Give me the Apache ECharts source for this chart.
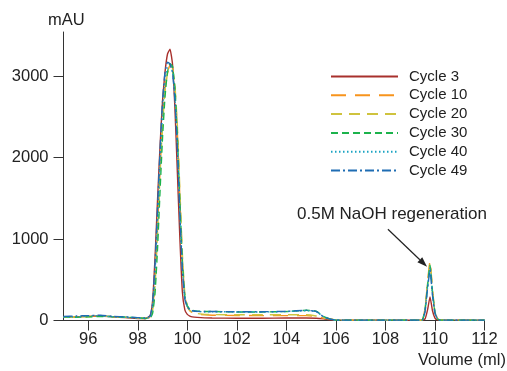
<!DOCTYPE html>
<html>
<head>
<meta charset="utf-8">
<script src="https://cdn.jsdelivr.net/npm/echarts@6/dist/echarts.min.js"></script>
<style>
  html, body { margin: 0; padding: 0; background: #fff; }
  #chart { width: 507px; height: 371px; }
</style>
</head>
<body>
<div id="chart"></div>
<script>
// Elution volume (ml), shared by every run
const volume = [
  95, 95.5, 96, 96.5, 97, 97.5, 98, 98.3, 98.5, 98.6,
  98.7, 98.8, 98.9, 99.0, 99.1, 99.2, 99.3, 99.4, 99.5, 99.6,
  99.7, 99.8, 99.9, 100.0, 100.1, 100.2, 100.4, 100.7, 101, 102,
  103, 104, 104.8, 105.2, 105.5, 105.8, 106, 107, 108, 109,
  109.4, 109.5, 109.6, 109.7, 109.8, 109.9, 110.0, 110.1, 110.2, 110.5,
  111, 112
];

// UV absorbance (mAU) for each cycle
const cycle3 = [
  40, 45, 50, 55, 45, 35, 25, 25, 60, 250,
  800, 1500, 2150, 2700, 3050, 3270, 3330, 3150, 2600, 1800,
  1000, 350, 130, 75, 55, 45, 38, 32, 30, 28,
  28, 30, 30, 28, 20, 8, 5, 5, 5, 5,
  5, 5, 20, 130, 290, 120, 30, 8, 5, 5,
  5, 5
];
const cycle10 = [
  45, 40, 50, 60, 45, 40, 30, 25, 40, 150,
  500, 1150, 1850, 2450, 2850, 3050, 3130, 3100, 2850, 2300,
  1500, 750, 300, 170, 120, 100, 80, 70, 65, 62,
  60, 60, 60, 50, 30, 20, 5, 5, 5, 5,
  5, 10, 150, 470, 730, 380, 110, 25, 5, 5,
  5, 5
];
const cycle20 = [
  40, 45, 45, 55, 50, 40, 30, 25, 35, 130,
  450, 1100, 1800, 2400, 2820, 3030, 3110, 3090, 2880, 2380,
  1600, 820, 330, 180, 125, 100, 85, 75, 72, 70,
  70, 70, 70, 55, 30, 18, 5, 5, 5, 5,
  5, 10, 140, 450, 700, 360, 100, 20, 5, 5,
  5, 5
];
const cycle30 = [
  45, 40, 45, 50, 45, 40, 35, 25, 30, 90,
  350, 900, 1600, 2250, 2750, 3050, 3150, 3120, 2850, 2250,
  1450, 720, 300, 180, 140, 125, 115, 110, 110, 105,
  105, 110, 125, 115, 50, 15, 5, 5, 5, 5,
  5, 10, 130, 430, 680, 350, 100, 20, 5, 5,
  5, 5
];
const cycle40 = [
  40, 45, 55, 60, 45, 40, 30, 25, 45, 180,
  600, 1250, 1950, 2550, 2950, 3100, 3120, 3050, 2750, 2150,
  1350, 650, 270, 170, 135, 120, 110, 108, 108, 105,
  105, 110, 120, 110, 45, 15, 5, 5, 5, 5,
  5, 10, 120, 410, 650, 330, 95, 20, 5, 5,
  5, 5
];
const cycle49 = [
  50, 55, 60, 65, 50, 45, 35, 30, 55, 220,
  720, 1400, 2100, 2700, 3050, 3170, 3150, 3050, 2700, 2100,
  1300, 620, 260, 165, 135, 120, 112, 110, 110, 108,
  108, 112, 125, 112, 45, 15, 5, 5, 5, 5,
  5, 10, 110, 390, 620, 310, 90, 20, 5, 5,
  5, 5
];

const xTicks = [96, 98, 100, 102, 104, 106, 108, 110, 112];
const yTicks = [0, 1000, 2000, 3000];

const runs = [
  { name: 'Cycle 3',  values: cycle3,  color: '#a8302c', type: 'solid' },
  { name: 'Cycle 10', values: cycle10, color: '#f7941d', type: [15, 9] },
  { name: 'Cycle 20', values: cycle20, color: '#cfc33e', type: [11, 7] },
  { name: 'Cycle 30', values: cycle30, color: '#1cb34c', type: [7, 4] },
  { name: 'Cycle 40', values: cycle40, color: '#1aa3c2', type: [1.5, 2.5] },
  { name: 'Cycle 49', values: cycle49, color: '#1f6db3', type: [9, 3, 2, 3] }
];

const FONT = '"Liberation Sans", Arial, sans-serif';
const TEXT = '#222';

const chart = echarts.init(document.getElementById('chart'), null, { renderer: 'canvas' });

const option = {
  animation: false,
  backgroundColor: '#fff',
  grid: { left: 63.5, right: 22.5, top: 32, bottom: 50.5, containLabel: false },
  legend: {
    orient: 'vertical',
    left: 330,
    top: 69,
    padding: 0,
    itemWidth: 67,
    itemHeight: 14,
    itemGap: 3.8,
    itemStyle: { opacity: 0 },
    textStyle: { fontFamily: FONT, fontSize: 15, color: TEXT, padding: [0, 0, 0, 6] },
    data: runs.map(r => r.name)
  },
  xAxis: {
    type: 'value',
    min: 95,
    max: 112,
    axisLine: { show: true, onZero: false, lineStyle: { color: '#333', width: 1 } },
    axisTick: { show: true, length: 10, inside: false, customValues: xTicks, lineStyle: { color: '#333' } },
    axisLabel: { customValues: xTicks, margin: 10, fontFamily: FONT, fontSize: 16.5, color: TEXT,
                 formatter: v => String(v) },
    splitLine: { show: false }
  },
  yAxis: {
    type: 'value',
    min: 0,
    max: 3540,
    axisLine: { show: true, lineStyle: { color: '#333', width: 1 } },
    axisTick: { show: true, length: 10, inside: false, customValues: yTicks, lineStyle: { color: '#333' } },
    axisLabel: { customValues: yTicks, margin: 15, fontFamily: FONT, fontSize: 16.5, color: TEXT,
                 formatter: v => String(v) },
    splitLine: { show: false }
  },
  series: runs.map(r => ({
    name: r.name,
    type: 'line',
    showSymbol: false,
    symbol: 'none',
    smooth: 0.15,
    z: r.name === 'Cycle 3' ? 1 : 2,
    lineStyle: { color: r.color, width: 1.4, type: r.type },
    itemStyle: { color: r.color },
    data: volume.map((v, i) => [v, r.values[i]])
  }))
};

chart.setOption(option);

// Axis titles, annotation label and arrow, placed through the axis scales
const annoText = [104.43, 1300];
const arrowFrom = [108.1, 1120];
const arrowTo = [109.68, 660];
const p0 = chart.convertToPixel({ gridIndex: 0 }, arrowFrom);
const p1 = chart.convertToPixel({ gridIndex: 0 }, arrowTo);
const pt = chart.convertToPixel({ gridIndex: 0 }, annoText);
const ang = Math.atan2(p1[1] - p0[1], p1[0] - p0[0]);
const headLen = 10, headHalf = 3.5;
const bx = p1[0] - headLen * Math.cos(ang), by = p1[1] - headLen * Math.sin(ang);
const nx = -Math.sin(ang), ny = Math.cos(ang);

chart.setOption({
  graphic: [
    {
      type: 'text', left: 48, top: 12,
      style: { text: 'mAU', fontFamily: FONT, fontSize: 16.5, fill: TEXT }
    },
    {
      type: 'text', right: 1, top: 352,
      style: { text: 'Volume (ml)', fontFamily: FONT, fontSize: 16.5, fill: TEXT }
    },
    {
      type: 'text', x: pt[0], y: pt[1],
      style: { text: '0.5M NaOH regeneration', fontFamily: FONT, fontSize: 17, fill: TEXT,
               textVerticalAlign: 'middle', verticalAlign: 'middle' }
    },
    {
      type: 'line',
      shape: { x1: p0[0], y1: p0[1], x2: bx, y2: by },
      style: { stroke: '#222', lineWidth: 1.2 }
    },
    {
      type: 'polygon',
      shape: { points: [
        [p1[0], p1[1]],
        [bx + nx * headHalf, by + ny * headHalf],
        [bx - nx * headHalf, by - ny * headHalf]
      ] },
      style: { fill: '#222' }
    }
  ]
});
</script>
</body>
</html>
